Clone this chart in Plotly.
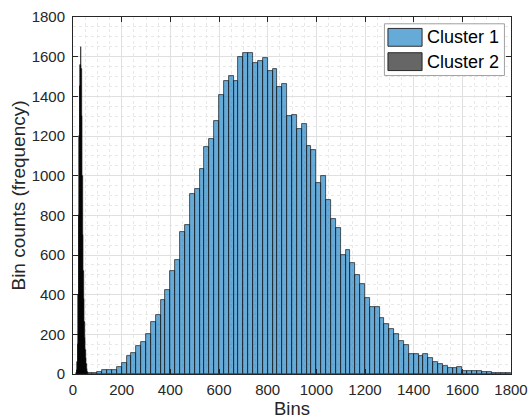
import numpy as np
import plotly.graph_objects as go

# ---- data ----
c1_bin_width = 20
c1_bin_start = 60
c1_counts = [4, 6, 10, 18, 20, 21, 35, 55, 90, 105, 142, 161, 203, 260, 297, 374,
             426, 518, 577, 715, 749, 910, 934, 1033, 1147, 1183, 1278, 1406, 1475,
             1502, 1477, 1596, 1620, 1620, 1566, 1579, 1591, 1530, 1536, 1448, 1463,
             1300, 1305, 1233, 1263, 1149, 1127, 961, 997, 875, 783, 735, 599, 624,
             561, 500, 453, 382, 337, 337, 280, 253, 229, 201, 167, 144, 103, 103,
             90, 100, 80, 62, 51, 39, 29, 31, 36, 16, 16, 14, 13, 11, 9, 6, 7, 6, 4]
c1_centers = [c1_bin_start + c1_bin_width * (i + 0.5) for i in range(len(c1_counts))]

c2_bin_width = 2
c2_centers = [15, 17, 19, 21, 23, 25, 27, 29, 31, 33, 35, 37, 39, 41, 43, 45, 47,
              49, 51, 53, 55, 57, 59]
c2_counts = [5, 20, 60, 150, 400, 800, 1200, 1450, 1560, 1650, 1540, 1300, 1000,
             700, 520, 380, 260, 180, 120, 80, 50, 25, 10]

legend_labels = ["Cluster 1", "Cluster 2"]
x_ticks = [0, 200, 400, 600, 800, 1000, 1200, 1400, 1600, 1800]
y_ticks = [0, 200, 400, 600, 800, 1000, 1200, 1400, 1600, 1800]

# ---- styles ----
c1_fill = "rgba(0,114,189,0.6)"
c2_fill = "rgba(0,0,0,0.6)"
edge = "rgba(20,20,20,0.85)"
axis_col = "#262626"
font_fam = "Liberation Sans, Arial, Helvetica, sans-serif"

fig = go.Figure()
fig.add_trace(go.Bar(x=c1_centers, y=c1_counts, width=c1_bin_width,
                     marker=dict(color=c1_fill, line=dict(color=edge, width=0.8)),
                     name=legend_labels[0], showlegend=False))
fig.add_trace(go.Bar(x=c2_centers, y=c2_counts, width=c2_bin_width,
                     marker=dict(color=c2_fill, line=dict(color="black", width=0.6)),
                     name=legend_labels[1], showlegend=False))

axis_common = dict(
    showline=True, linecolor=axis_col, linewidth=1, mirror="ticks",
    ticks="inside", ticklen=5, tickcolor=axis_col,
    showgrid=True, gridcolor="#e0e0e0", gridwidth=1,
    zeroline=False, automargin=False,
    tickfont=dict(family=font_fam, size=15, color=axis_col),
    minor=dict(dtick=50, showgrid=True, gridcolor="#e8e8e8", griddash="dot", gridwidth=1, ticks=""),
)

fig.update_layout(
    width=532, height=420,
    margin=dict(l=73, r=21, t=17, b=46),
    paper_bgcolor="white", plot_bgcolor="white",
    barmode="overlay", bargap=0,
    font=dict(family=font_fam, color=axis_col),
    xaxis=dict(range=[0, 1800], tickvals=x_ticks, ticktext=[str(v) for v in x_ticks],
               ticklabelstandoff=2,
               title=dict(text="Bins", font=dict(size=18.5, color=axis_col), standoff=0),
               **axis_common),
    yaxis=dict(range=[0, 1800], tickvals=y_ticks, ticktext=[str(v) for v in y_ticks],
               ticklabelstandoff=4,
               title=dict(text="Bin counts (frequency)", font=dict(size=19, color=axis_col), standoff=0),
               **axis_common),
)

# custom MATLAB-style legend
L = dict(x0=0.711, x1=0.985, y0=0.836, y1=0.981)
fig.add_shape(type="rect", xref="paper", yref="paper", x0=L["x0"], x1=L["x1"], y0=L["y0"], y1=L["y1"],
              fillcolor="white", line=dict(color="#a0a0a0", width=1), layer="above")
sw = [(0.918, 0.968, c1_fill), (0.850, 0.900, c2_fill)]
for (y0, y1, col), lab in zip(sw, legend_labels):
    fig.add_shape(type="rect", xref="paper", yref="paper", x0=0.719, x1=0.797, y0=y0, y1=y1,
                  fillcolor=col, line=dict(color=edge, width=1), layer="above")
    fig.add_annotation(xref="paper", yref="paper", x=0.803, y=(y0 + y1) / 2, text=lab,
                       showarrow=False, xanchor="left", yanchor="middle",
                       font=dict(family=font_fam, size=18, color="black"))

fig.write_html("out.html", config={"displayModeBar": False},
               post_script="document.body.style.margin='0px';")
